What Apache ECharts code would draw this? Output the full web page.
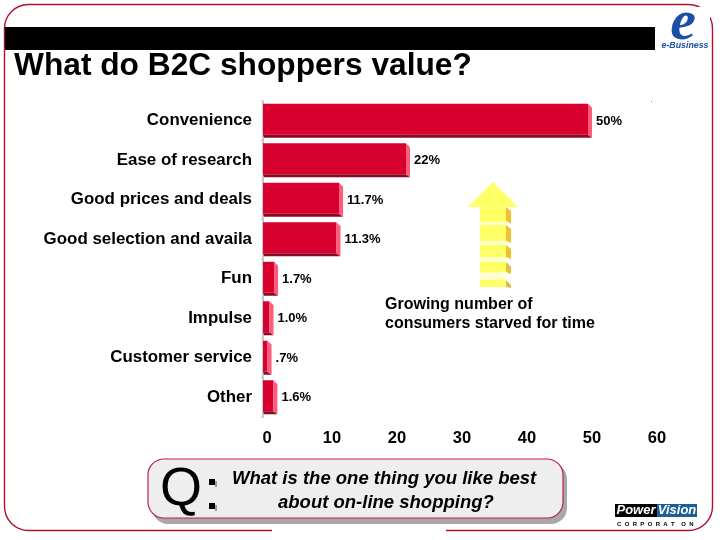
<!DOCTYPE html>
<html><head><meta charset="utf-8">
<style>html,body{margin:0;padding:0;background:#fff}#c{width:720px;height:540px}</style>
<script src="https://cdn.jsdelivr.net/npm/echarts@6/dist/echarts.min.js"></script>
</head><body><div id="c"></div>
<script>
const categories = ['Convenience','Ease of research','Good prices and deals','Good selection and availa','Fun','Impulse','Customer service','Other'];
const values = [50,22,11.7,11.3,1.7,1.0,0.7,1.6];
const valueLabels = ['50%','22%','11.7%','11.3%','1.7%','1.0%','.7%','1.6%'];
const ticks = [0,10,20,30,40,50,60];
const FONT = '"Liberation Sans", Arial, sans-serif';

function poly(points, fill){ return {type:'polygon', z:3, shape:{points}, style:{fill}, silent:true}; }
function rect(x,y,width,height,fill,extra){ return Object.assign({type:'rect', shape:{x,y,width,height}, style:{fill}, silent:true}, extra||{}); }
function text(x,y,t,font,fill,align,extra){ return Object.assign({type:'text', x, y, silent:true, style:{text:t, font:font, fill:fill||'#000', align:align||'left', verticalAlign:'middle'}}, extra||{}); }

const chart = echarts.init(document.getElementById('c'), null, {renderer:'canvas'});

const graphic = [
  // frame
  {type:'rect', z:0, silent:true, shape:{x:4.5,y:4.5,width:708,height:526,r:[24,24,24,24]}, style:{fill:'#fff',stroke:'#b01030',lineWidth:1.4}},
  rect(272,523,174,17,'#fff',{z:1}),
  rect(5,27,650,23,'#000',{z:1}),
  rect(655,7,55,44,'#fff',{z:1}),
  // e-Business logo
  text(683,24,'e','italic bold 58px "Liberation Serif", serif','#1c50a8','center',{z:2}),
  text(685,46,'e-Business','italic bold 8.8px '+FONT,'#1c50a8','center',{z:3}),
  // title
  text(14,66,'What do B2C shoppers value?','bold 31.7px '+FONT,'#000','left',{z:2}),
  rect(651,101,1,1,'#888',{z:2}),
  // arrow
  rect(480,207,26,80,'#ffffcc',{z:2}),
  poly([[493,182],[518,207],[468,207]],'#ffff66'),
  rect(480,207,26,15,'#ffff66',{z:3}),
  rect(480,225,26,16,'#ffff66',{z:3}),
  rect(480,245,26,12,'#ffff66',{z:3}),
  rect(480,262,26,10,'#ffff66',{z:3}),
  rect(480,280,26,7,'#ffff66',{z:3}),
  poly([[506,207],[511,211],[511,224],[506,221]],'#f0c030'),
  poly([[506,225],[511,229],[511,243],[506,241]],'#f0c030'),
  poly([[506,245],[511,249],[511,259],[506,257]],'#f0c030'),
  poly([[506,262],[511,267],[511,274],[506,272]],'#e8c040'),
  poly([[506,280],[511,285],[511,288],[506,287]],'#d8c050'),
  // annotation
  text(385,304.5,'Growing number of','bold 16px '+FONT,'#000','left',{z:4}),
  text(385,323.5,'consumers starved for time','bold 16px '+FONT,'#000','left',{z:4}),
  // question box
  {type:'rect', z:2, silent:true, shape:{x:152,y:463,width:415,height:61,r:16}, style:{fill:'#a8a8a8'}},
  {type:'rect', z:3, silent:true, shape:{x:148,y:459,width:415,height:59,r:16}, style:{fill:'#eeeeee',stroke:'#c02048',lineWidth:1.2}},
  text(181,490.5,'Q','54px '+FONT,'#000','center',{z:4}),
  rect(209,479,6,6,'#000',{z:4}), rect(209,503,6,6,'#000',{z:4}),
  rect(215,481,2,6,'#999',{z:3}), rect(215,505,2,6,'#999',{z:3}),
  text(232,479,'What is the one thing you like best','italic bold 18.5px '+FONT,'#000','left',{z:4}),
  text(278,503,'about on-line shopping?','italic bold 18.5px '+FONT,'#000','left',{z:4}),
  // PowerVision logo
  rect(615,504,42,13,'#000',{z:3}),
  rect(657,504,40,13,'#1a5f96',{z:3}),
  text(636,510.5,'Power','italic bold 13px '+FONT,'#fff','center',{z:4}),
  text(677,510.5,'Vision','italic bold 13px '+FONT,'#fff','center',{z:4}),
  text(617,524,'C  O  R  P  O  R  A  T    O  N','bold 6px '+FONT,'#000','left',{z:4})
];

const option = {
  animation:false,
  backgroundColor:'transparent',
  graphic:{elements:graphic},
  grid:{left:263,top:101,width:390,height:316,containLabel:false,z:5},
  xAxis:{type:'value',min:0,max:60,interval:10,
    splitLine:{show:false},axisLine:{show:false},axisTick:{show:false},
    axisLabel:{margin:13,fontFamily:FONT,fontWeight:'bold',fontSize:16.5,color:'#000',padding:[0,0,0,8],
      formatter:v=>ticks.includes(v)?String(v):''}},
  yAxis:{type:'category',inverse:true,data:categories,
    axisLine:{show:true,lineStyle:{color:'#c8c8c8',width:2}},
    axisTick:{show:true,length:2,lineStyle:{color:'#c8c8c8'}},
    axisLabel:{margin:11,fontFamily:FONT,fontWeight:'bold',fontSize:16.9,color:'#000',padding:[1,0,0,0]}},
  series:[{type:'custom',z:6,clip:false,
    data:values.map((v,i)=>[v,i]),
    encode:{x:0,y:1},
    renderItem:function(params,api){
      const v=api.value(0), i=api.value(1);
      const end=api.coord([v,i]), start=api.coord([0,i]);
      const h=api.size([0,1])[1]*0.86, top=end[1]-h/2, bot=end[1]+h/2;
      const x0=start[0], x1=end[0], d=4;
      return {type:'group',children:[
        {type:'rect',shape:{x:x0,y:top,width:x1-x0,height:h-3},style:{fill:'#d8002e'}},
        {type:'polygon',shape:{points:[[x0,bot-3],[x1,bot-3],[x1+d,bot],[x0+1,bot]]},style:{fill:'#8a0a24'}},
        {type:'polygon',shape:{points:[[x1,top],[x1+d,top+4],[x1+d,bot],[x1,bot-3]]},style:{fill:'#ff5c7c'}},
        {type:'text',x:x1+8,y:end[1]+0.2,style:{text:valueLabels[i],font:'bold 13px '+FONT,fill:'#000',align:'left',verticalAlign:'middle'}}
      ]};
    }
  }]
};
chart.setOption(option);
</script></body></html>
